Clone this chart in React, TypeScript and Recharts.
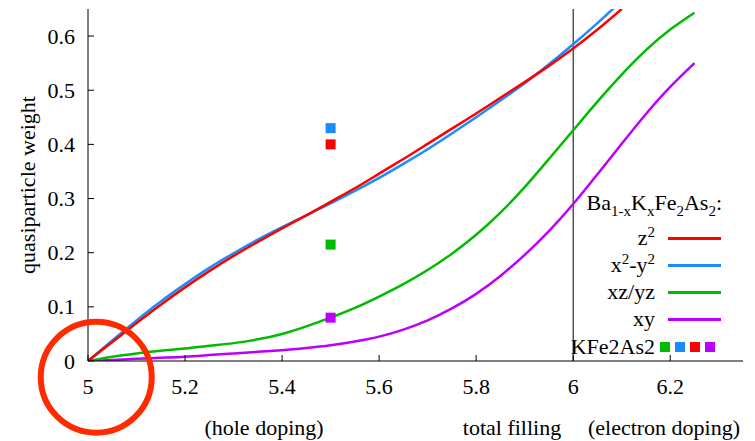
import * as React from 'react';
import { ComposedChart, Line, Scatter, XAxis, YAxis, ReferenceLine, ReferenceDot } from 'recharts';

// total filling (x) and quasiparticle weight per orbital
const filling = [5.0, 5.05, 5.1, 5.15, 5.2, 5.25, 5.3, 5.35, 5.4, 5.45, 5.5, 5.55, 5.6, 5.65, 5.7, 5.75, 5.8, 5.85, 5.9, 5.95, 6.0, 6.05, 6.1, 6.15, 6.2, 6.25];
const z2 = [0, 0.035, 0.070, 0.104, 0.136, 0.166, 0.194, 0.220, 0.245, 0.269, 0.294, 0.319, 0.346, 0.373, 0.401, 0.429, 0.457, 0.486, 0.515, 0.545, 0.577, 0.612, 0.650, null, null, null];
const x2y2 = [0, 0.038, 0.075, 0.110, 0.142, 0.172, 0.199, 0.224, 0.247, 0.269, 0.291, 0.314, 0.338, 0.364, 0.391, 0.420, 0.450, 0.481, 0.513, 0.548, 0.585, 0.624, 0.665, null, null, null];
const xzyz = [0, 0.008, 0.014, 0.019, 0.023, 0.028, 0.033, 0.040, 0.050, 0.064, 0.080, 0.098, 0.119, 0.142, 0.168, 0.198, 0.233, 0.274, 0.321, 0.373, 0.426, 0.479, 0.529, 0.574, 0.612, 0.643];
const xy = [0, 0.002, 0.004, 0.006, 0.008, 0.011, 0.014, 0.017, 0.020, 0.024, 0.029, 0.036, 0.045, 0.058, 0.075, 0.097, 0.124, 0.157, 0.196, 0.240, 0.290, 0.345, 0.401, 0.456, 0.506, 0.550];

// KFe2As2 values (at filling 5.5)
const kfeFilling = 5.5;
const kfeZ2 = 0.40;
const kfeX2y2 = 0.43;
const kfeXzyz = 0.215;
const kfeXy = 0.08;

const xTicks = [5, 5.2, 5.4, 5.6, 5.8, 6, 6.2];
const yTicks = [0, 0.1, 0.2, 0.3, 0.4, 0.5, 0.6];

// highlighted corner (red circle annotation)
const circleAt = { n: 5.017, w: -0.030 };

const RED = '#ff0000';
const BLUE = '#1a8cff';
const GREEN = '#00bb00';
const PURPLE = '#bb00ff';
const FONT = '"Liberation Serif", "DejaVu Serif", "Noto Serif", "FreeSerif", "Nimbus Roman", Tinos, "Times New Roman", serif';
const FS = 22;

const data = filling.map((n, i) => ({ n, z2: z2[i], x2y2: x2y2[i], xzyz: xzyz[i], xy: xy[i] }));

const fmtX = (v: number) => (Number.isInteger(v) ? String(v) : v.toFixed(1));
const fmtY = (v: number) => (v === 0 ? '0' : v.toFixed(1));

const BottomTick = (props: any) => {
  const { x, y, payload } = props;
  return (
    <g>
      <line x1={x} y1={y} x2={x} y2={y - 6} stroke="#000" />
      <text x={x} y={y + 25} textAnchor="middle" dominantBaseline="central" fontFamily={FONT} fontSize={FS} fill="#000">
        {fmtX(payload.value)}
      </text>
    </g>
  );
};
const TopTick = (props: any) => {
  const { x, y } = props;
  return <line x1={x} y1={y} x2={x} y2={y + 6} stroke="#000" />;
};
const LeftTick = (props: any) => {
  const { x, y, payload } = props;
  return (
    <g>
      <line x1={x} y1={y} x2={x + 6} y2={y} stroke="#000" />
      <text x={x - 13} y={y} textAnchor="end" dominantBaseline="central" fontFamily={FONT} fontSize={FS} fill="#000">
        {fmtY(payload.value)}
      </text>
    </g>
  );
};
const RightTick = (props: any) => {
  const { x, y } = props;
  return <line x1={x} y1={y} x2={x - 6} y2={y} stroke="#000" />;
};

const Square = (color: string) => (props: any) => (
  <rect x={props.cx - 5} y={props.cy - 5} width={10} height={10} fill={color} />
);

const supStyle: React.CSSProperties = { fontSize: 15, verticalAlign: 0, position: 'relative', top: -8 };
const subStyle: React.CSSProperties = { fontSize: 15, verticalAlign: 0, position: 'relative', top: 6 };

const legendRows = [
  { label: <>z<span style={supStyle}>2</span></>, color: RED },
  { label: <>x<span style={supStyle}>2</span>-y<span style={supStyle}>2</span></>, color: BLUE },
  { label: <>xz/yz</>, color: GREEN },
  { label: <>xy</>, color: PURPLE },
];

class App extends React.Component<any, any> {
  render() {
    return (
      <div style={{ position: 'absolute', left: 0, top: 0, width: 755, height: 441, background: '#fff', fontFamily: FONT, fontSize: FS, color: '#000' }}>
        <ComposedChart width={755} height={441} data={data} margin={{ top: 9, right: 12, bottom: 0, left: 0 }}>
          <XAxis dataKey="n" type="number" domain={[5, 6.35]} ticks={xTicks} height={80} tickSize={0} tickMargin={0}
            tick={<BottomTick />} axisLine={{ stroke: '#000' }} tickLine={false} interval={0} allowDataOverflow />
          <XAxis xAxisId="top" orientation="top" dataKey="n" type="number" domain={[5, 6.35]} ticks={xTicks} height={0}
            tickSize={0} tickMargin={0} tick={<TopTick />} axisLine={{ stroke: '#000' }} tickLine={false} interval={0} />
          <YAxis type="number" domain={[0, 0.65]} ticks={yTicks} width={88} tickSize={0} tickMargin={0}
            tick={<LeftTick />} axisLine={{ stroke: '#000' }} tickLine={false} interval={0} allowDataOverflow
            label={{
              content: () => (
                <text transform="translate(27,185) rotate(-90)" textAnchor="middle" dominantBaseline="central"
                  fontFamily={FONT} fontSize={FS} fill="#000">quasiparticle weight</text>
              ),
            }} />
          <YAxis yAxisId="right" orientation="right" type="number" domain={[0, 0.65]} ticks={yTicks} width={0}
            tickSize={0} tickMargin={0} tick={<RightTick />} axisLine={{ stroke: '#000' }} tickLine={false} interval={0} />
          <ReferenceLine x={6} stroke="#000" strokeWidth={1} />
          <Line dataKey="xy" type="natural" stroke={PURPLE} strokeWidth={2.5} dot={false} isAnimationActive={false} />
          <Line dataKey="xzyz" type="natural" stroke={GREEN} strokeWidth={2.5} dot={false} isAnimationActive={false} />
          <Line dataKey="x2y2" type="natural" stroke={BLUE} strokeWidth={2.5} dot={false} isAnimationActive={false} />
          <Line dataKey="z2" type="natural" stroke={RED} strokeWidth={2.5} dot={false} isAnimationActive={false} />
          <Scatter data={[{ n: kfeFilling, v: kfeXzyz }]} dataKey="v" shape={Square(GREEN)} isAnimationActive={false} />
          <Scatter data={[{ n: kfeFilling, v: kfeX2y2 }]} dataKey="v" shape={Square(BLUE)} isAnimationActive={false} />
          <Scatter data={[{ n: kfeFilling, v: kfeZ2 }]} dataKey="v" shape={Square(RED)} isAnimationActive={false} />
          <Scatter data={[{ n: kfeFilling, v: kfeXy }]} dataKey="v" shape={Square(PURPLE)} isAnimationActive={false} />
          <ReferenceDot x={circleAt.n} y={circleAt.w} r={55.5} fill="none" stroke="#ff2a00" strokeWidth={6} ifOverflow="visible" />
        </ComposedChart>

        {/* legend */}
        <div style={{ position: 'absolute', right: 33, top: 190, whiteSpace: 'nowrap', lineHeight: '26px' }}>
          Ba<span style={subStyle}>1-x</span>K<span style={subStyle}>x</span>Fe<span style={subStyle}>2</span>As<span style={subStyle}>2</span>:
        </div>
        {legendRows.map((r, i) => (
          <div key={i} style={{ position: 'absolute', left: 560, top: 225 + i * 27, width: 161, height: 26, display: 'flex', alignItems: 'center' }}>
            <span style={{ width: 95, textAlign: 'right', whiteSpace: 'nowrap' }}>{r.label}</span>
            <span style={{ marginLeft: 13, width: 53, height: 3, background: r.color }} />
          </div>
        ))}
        <div style={{ position: 'absolute', left: 520, top: 334, width: 200, height: 26, display: 'flex', alignItems: 'center' }}>
          <span style={{ width: 135, textAlign: 'right' }}>KFe2As2</span>
          {[GREEN, BLUE, RED, PURPLE].map((c, i) => (
            <span key={i} style={{ marginLeft: 5, width: 10, height: 10, background: c }} />
          ))}
        </div>

        {/* doping annotations under the axis */}
        <div style={{ position: 'absolute', left: 264, top: 428, transform: 'translate(-50%,-50%)', whiteSpace: 'nowrap' }}>(hole doping)</div>
        <div style={{ position: 'absolute', left: 512, top: 428, transform: 'translate(-50%,-50%)', whiteSpace: 'nowrap' }}>total filling</div>
        <div style={{ position: 'absolute', left: 664, top: 428, transform: 'translate(-50%,-50%)', whiteSpace: 'nowrap' }}>(electron doping)</div>
      </div>
    );
  }
}

export default App;
